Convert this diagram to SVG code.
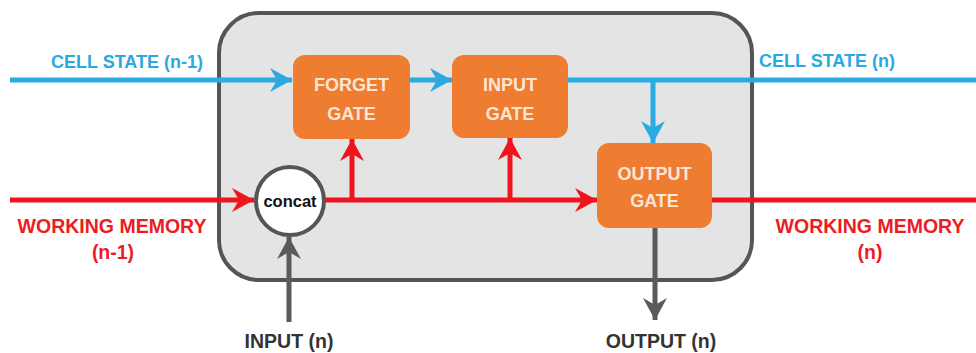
<svg xmlns="http://www.w3.org/2000/svg" width="976" height="353" viewBox="0 0 976 353">
<style>
.lbl{font-family:"Liberation Sans",Arial,sans-serif;font-weight:bold;font-size:19.5px;text-anchor:middle}
.cs{font-size:18px}
.blue{fill:#2aa8e0}
.red{fill:#ec1c24}
.dark{fill:#333}
.gate rect{fill:#ee7d31;stroke:none}
.gate text{font-family:"Liberation Sans",Arial,sans-serif;font-weight:bold;font-size:18px;fill:#fde6d5;text-anchor:middle}
.cb{stroke:#29abe2;stroke-width:5;fill:none}
.cr{stroke:#f0141e;stroke-width:5;fill:none}
.cg{stroke:#5a5a5a;stroke-width:5;fill:none}
</style>
<defs>
<marker id="ab" markerUnits="userSpaceOnUse" markerWidth="24" markerHeight="26" refX="22" refY="13" orient="auto"><path d="M0,1 L22,13 L0,25 L7,13 Z" fill="#29abe2"/></marker>
<marker id="ar" markerUnits="userSpaceOnUse" markerWidth="24" markerHeight="26" refX="22" refY="13" orient="auto"><path d="M0,1 L22,13 L0,25 L7,13 Z" fill="#f0141e"/></marker>
<marker id="ag" markerUnits="userSpaceOnUse" markerWidth="24" markerHeight="26" refX="22" refY="13" orient="auto"><path d="M0,1 L22,13 L0,25 L7,13 Z" fill="#5a5a5a"/></marker>
</defs>
<g id="cell">
<rect x="219" y="13" width="533" height="267" rx="40" ry="40" fill="#e4e4e4" stroke="#555" stroke-width="4"/>
</g>
<g id="connectors">
<line class="cb" x1="10" y1="80" x2="292" y2="80" marker-end="url(#ab)"/>
<line class="cb" x1="410" y1="80" x2="452" y2="80" marker-end="url(#ab)"/>
<line class="cb" x1="567" y1="80" x2="976" y2="80"/>
<line class="cb" x1="653" y1="80" x2="653" y2="143" marker-end="url(#ab)"/>
<line class="cr" x1="10" y1="200" x2="254" y2="200" marker-end="url(#ar)"/>
<line class="cr" x1="324" y1="200" x2="597" y2="200" marker-end="url(#ar)"/>
<line class="cr" x1="352" y1="202" x2="352" y2="139" marker-end="url(#ar)"/>
<line class="cr" x1="510" y1="202" x2="510" y2="138" marker-end="url(#ar)"/>
<line class="cr" x1="712" y1="200" x2="976" y2="200"/>
<line class="cg" x1="289" y1="322" x2="289" y2="237" marker-end="url(#ag)"/>
<line class="cg" x1="655" y1="228" x2="655" y2="320" marker-end="url(#ag)"/>
</g>
<g id="forget" class="gate">
<rect x="293" y="55" width="117" height="84" rx="12"/>
<text x="351.5" y="91">FORGET</text>
<text x="351.5" y="120">GATE</text>
</g>
<g id="input" class="gate">
<rect x="452" y="55" width="116" height="83" rx="12"/>
<text x="510" y="91">INPUT</text>
<text x="510" y="120">GATE</text>
</g>
<g id="output" class="gate">
<rect x="597" y="143" width="115" height="85" rx="12"/>
<text x="654.5" y="180">OUTPUT</text>
<text x="654.5" y="207">GATE</text>
</g>
<g id="concat">
<circle cx="290" cy="201" r="34" fill="#fff" stroke="#555" stroke-width="4"/>
<text x="290" y="207" font-family="'Liberation Sans',Arial,sans-serif" font-weight="bold" font-size="16.5" text-anchor="middle" fill="#111">concat</text>
</g>
<g id="labels">
<text class="lbl cs blue" x="127" y="68">CELL STATE (n-1)</text>
<text class="lbl cs blue" x="827" y="67">CELL STATE (n)</text>
<text class="lbl red" x="112" y="233">WORKING MEMORY</text>
<text class="lbl red" x="113" y="259">(n-1)</text>
<text class="lbl red" x="870" y="233">WORKING MEMORY</text>
<text class="lbl red" x="870" y="259">(n)</text>
<text class="lbl dark" x="289" y="348">INPUT (n)</text>
<text class="lbl dark" x="661" y="348">OUTPUT (n)</text>
</g>
</svg>
